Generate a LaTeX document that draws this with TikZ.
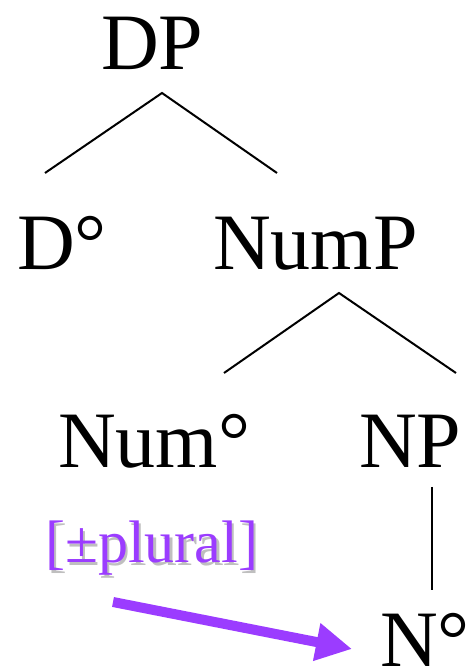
\documentclass[tikz,border=0pt]{standalone}
\usepackage{fontspec}
\setmainfont{Liberation Serif}
\usetikzlibrary{arrows.meta}
\definecolor{featpurple}{RGB}{155,60,255}
\begin{document}
\begin{tikzpicture}[x=1pt,y=1pt,
  cat/.style={anchor=base west,inner sep=0pt,font=\fontsize{80}{96}\selectfont},
  feat/.style={anchor=base west,inner sep=0pt,font=\fontsize{60}{72}\selectfont},
  branch/.style={line width=2pt},
  featarrow/.style={line width=10pt,color=featpurple,-{Triangle[length=36pt,width=36pt]}}]
\useasboundingbox (0,0) rectangle (470,669);
\node[cat] (DP) at (101,599) {DP};
\node[cat] (D) at (17,399) {D°};
\node[cat] (NumP) at (213,399) {NumP};
\node[cat] (Num) at (58,201) {Num°};
\node[cat] (NP) at (359,201) {NP};
\node[cat] (N) at (380,2) {N°};
\coordinate (DPa) at (162,576);
\coordinate (Dt) at (45,496);
\coordinate (NumPt) at (277,496);
\coordinate (NumPa) at (339,376);
\coordinate (Numt) at (224,296);
\coordinate (NPt) at (456,296);
\coordinate (NPb) at (432,182);
\coordinate (Nt) at (432,79);
\draw[branch] (Dt) -- (DPa) -- (NumPt);
\draw[branch] (Numt) -- (NumPa) -- (NPt);
\draw[branch] (NPb) -- (Nt);
\node[feat,text=gray!50] (featshadow) at (47.5,103.5) {[±plural]};
\node[feat,text=featpurple] (feat) at (45,106) {[±plural]};
\coordinate (arrS) at (113,67);
\coordinate (arrE) at (352,20);
\draw[featarrow] (arrS) -- (arrE);
\end{tikzpicture}
\end{document}
